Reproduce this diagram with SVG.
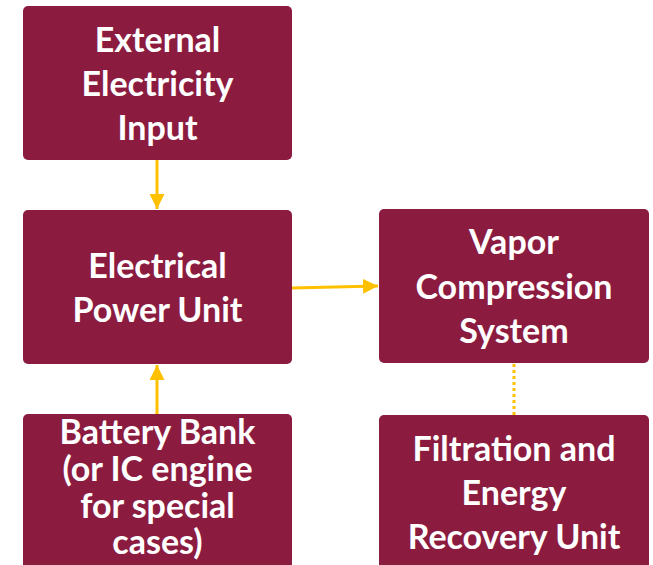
<svg xmlns="http://www.w3.org/2000/svg" width="653" height="565" viewBox="0 0 653 565">
<style>
.box{fill:#8B1C40;}
.t{font-family:Lato,"Open Sans","Liberation Sans",sans-serif;font-weight:bold;font-size:34px;fill:#ffffff;text-anchor:middle;}
.c{stroke:#FFC000;stroke-width:3;fill:none;}
.d{stroke:#FFC000;stroke-width:3;fill:none;stroke-dasharray:3 3;}
</style>
<defs>
<marker id="ah" viewBox="0 0 10 10" refX="10" refY="5" markerWidth="5" markerHeight="5" markerUnits="strokeWidth" orient="auto">
<path d="M0,0 L10,5 L0,10 z" fill="#FFC000"/>
</marker>
</defs>
<rect width="653" height="565" fill="#ffffff"/>
<g id="connectors">
<line class="c" x1="157" y1="160" x2="157" y2="209" marker-end="url(#ah)"/>
<line class="c" x1="292" y1="288" x2="378" y2="286" marker-end="url(#ah)"/>
<line class="c" x1="157" y1="414" x2="157" y2="365" marker-end="url(#ah)"/>
<line class="d" x1="514" y1="364" x2="514" y2="415"/>
</g>
<g id="external">
<rect class="box" x="23" y="6" width="269" height="154" rx="5"/>
<text class="t" x="157.5" y="52">External</text>
<text class="t" x="157.5" y="96">Electricity</text>
<text class="t" x="157.5" y="140">Input</text>
</g>
<g id="power">
<rect class="box" x="23" y="210" width="269" height="154" rx="5"/>
<text class="t" x="157.5" y="278">Electrical</text>
<text class="t" x="157.5" y="322">Power Unit</text>
</g>
<g id="battery">
<rect class="box" x="23" y="414" width="269" height="160" rx="5"/>
<text class="t" x="157.5" y="444">Battery Bank</text>
<text class="t" x="157.5" y="481">(or IC engine</text>
<text class="t" x="157.5" y="518">for special</text>
<text class="t" x="157.5" y="554">cases)</text>
</g>
<g id="vapor">
<rect class="box" x="379" y="209" width="270" height="154" rx="5"/>
<text class="t" x="514" y="254">Vapor</text>
<text class="t" x="514" y="299">Compression</text>
<text class="t" x="514" y="343">System</text>
</g>
<g id="filtration">
<rect class="box" x="379" y="415" width="270" height="160" rx="5"/>
<text class="t" x="514" y="461">Filtration and</text>
<text class="t" x="514" y="505">Energy</text>
<text class="t" x="514" y="549">Recovery Unit</text>
</g>
</svg>
